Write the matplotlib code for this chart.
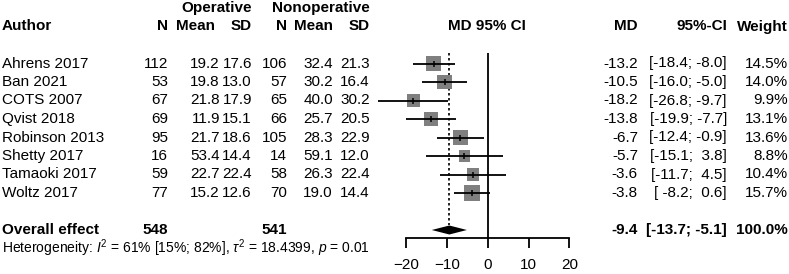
import numpy as np
import matplotlib
matplotlib.use('Agg')
import matplotlib.pyplot as plt
import matplotlib.transforms as mtransforms
from matplotlib.patches import Polygon

plt.rcParams['font.family'] = ['Liberation Sans', 'DejaVu Sans']
plt.rcParams['mathtext.fontset'] = 'custom'
plt.rcParams['mathtext.rm'] = 'Liberation Sans'
plt.rcParams['mathtext.it'] = 'Liberation Sans:italic'
plt.rcParams['mathtext.bf'] = 'Liberation Sans:bold'

# study data
authors = ['Ahrens 2017', 'Ban 2021', 'COTS 2007', 'Qvist 2018',
           'Robinson 2013', 'Shetty 2017', 'Tamaoki 2017', 'Woltz 2017']
op_n = [112, 53, 67, 69, 95, 16, 59, 77]
op_mean = ['19.2', '19.8', '21.8', '11.9', '21.7', '53.4', '22.7', '15.2']
op_sd = ['17.6', '13.0', '17.9', '15.1', '18.6', '14.4', '22.4', '12.6']
non_n = [106, 57, 65, 66, 105, 14, 58, 70]
non_mean = ['32.4', '30.2', '40.0', '25.7', '28.3', '59.1', '26.3', '19.0']
non_sd = ['21.3', '16.4', '30.2', '20.5', '22.9', '12.0', '22.4', '14.4']
md = [-13.2, -10.5, -18.2, -13.8, -6.7, -5.7, -3.6, -3.8]
ci_lo = [-18.4, -16.0, -26.8, -19.9, -12.4, -15.1, -11.7, -8.2]
ci_hi = [-8.0, -5.0, -9.7, -7.7, -0.9, 3.8, 4.5, 0.6]
ci_txt = ['[-18.4; -8.0]', '[-16.0; -5.0]', '[-26.8; -9.7]', '[-19.9; -7.7]',
          '[-12.4; -0.9]', '[-15.1;  3.8]', '[-11.7;  4.5]', '[ -8.2;  0.6]']
weights = [14.5, 14.0, 9.9, 13.1, 13.6, 8.8, 10.4, 15.7]

overall_md = -9.4
overall_lo = -13.7
overall_hi = -5.1
overall_n_op = 548
overall_n_non = 541
het_text = r'Heterogeneity: $I^2$ = 61% [15%; 82%], $\tau^2$ = 18.4399, $p$ = 0.01'

W, H = 789, 274
fig = plt.figure(figsize=(W / 100, H / 100), dpi=100)

# forest panel, x in MD units, y in row units (row k sits at 8 + 18.5*k px)
row_px = 18.5
top_px = 8.0
x0_px, px_per = 487.7, 163.3 / 40
xmin, xmax = -30, 25
left = (x0_px + xmin * px_per) / W
width = (xmax - xmin) * px_per / W
ax = fig.add_axes([left, 0, width, 1])
ax.set_xlim(xmin, xmax)
ax.set_ylim((H - top_px) / row_px, -top_px / row_px)
ax.patch.set_visible(False)

rows = np.arange(3, 3 + len(authors))
axis_row = 12.45

# reference lines
ax.vlines(0, 2.45, axis_row, color='black', lw=1.3)
ax.vlines(overall_md, 2.45, 11.75, color='black', lw=1.2, linestyles=(0, (1.5, 1.5)))

# squares, CI lines, centre ticks
sides_pt = 3.94 * np.sqrt(weights) * 0.72
ax.scatter(md, rows, s=sides_pt ** 2, marker='s', color='#7f7f7f', lw=0, zorder=2)
ax.hlines(rows, ci_lo, ci_hi, color='black', lw=1.3, zorder=3)
ax.plot(md, rows, ls='none', marker='|', ms=4.5, mew=1.1, color='black', zorder=4)

# diamond
h = 4.5 / row_px
ax.add_patch(Polygon([[overall_lo, 12], [overall_md, 12 - h], [overall_hi, 12], [overall_md, 12 + h]],
                     closed=True, color='black', lw=0))

# x axis
for s in ['top', 'left', 'right']:
    ax.spines[s].set_visible(False)
ax.spines['bottom'].set_position(('data', axis_row))
ax.spines['bottom'].set_bounds(-20, 20)
ax.spines['bottom'].set_linewidth(1.3)
ax.set_xticks([-20, -10, 0, 10, 20])
ax.tick_params(axis='x', direction='out', length=7.2, width=1.3, labelsize=11, pad=7)
ax.set_yticks([])

# text columns: x in pixels, y in rows
trans = mtransforms.blended_transform_factory(
    mtransforms.Affine2D().scale(1 / W, 1) + fig.transFigure, ax.transData)

def txt(x, r, s, ha='right', bold=False, size=11):
    ax.text(x, r, s, transform=trans, ha=ha, va='center', fontsize=size,
            fontweight='bold' if bold else 'normal', clip_on=False)

txt(252, 0, 'Operative', bold=True)
txt(370, 0, 'Nonoperative', bold=True)
txt(2, 1, 'Author', ha='left', bold=True)
txt(168, 1, 'N', bold=True)
txt(215, 1, 'Mean', bold=True)
txt(252, 1, 'SD', bold=True)
txt(287, 1, 'N', bold=True)
txt(333, 1, 'Mean', bold=True)
txt(370, 1, 'SD', bold=True)
txt(487, 1, 'MD 95% CI', ha='center', bold=True)
txt(638, 1, 'MD', bold=True)
txt(727, 1, '95%-CI', bold=True)
txt(788, 1, 'Weight', bold=True)

for i, r in enumerate(rows):
    txt(2, r, authors[i], ha='left')
    txt(168, r, str(op_n[i]))
    txt(220, r, op_mean[i])
    txt(252, r, op_sd[i])
    txt(287, r, str(non_n[i]))
    txt(333, r, non_mean[i])
    txt(370, r, non_sd[i])
    txt(638, r, '%.1f' % md[i])
    txt(727, r, ci_txt[i])
    txt(788, r, '%.1f%%' % weights[i])

txt(2, 12, 'Overall effect', ha='left', bold=True)
txt(168, 12, str(overall_n_op), bold=True)
txt(287, 12, str(overall_n_non), bold=True)
txt(638, 12, '%.1f' % overall_md, bold=True)
txt(727, 12, '[%.1f; %.1f]' % (overall_lo, overall_hi), bold=True)
txt(788, 12, '100.0%', bold=True)
txt(2, 13, het_text, ha='left', size=10)

fig.savefig('out.png', dpi=100)
